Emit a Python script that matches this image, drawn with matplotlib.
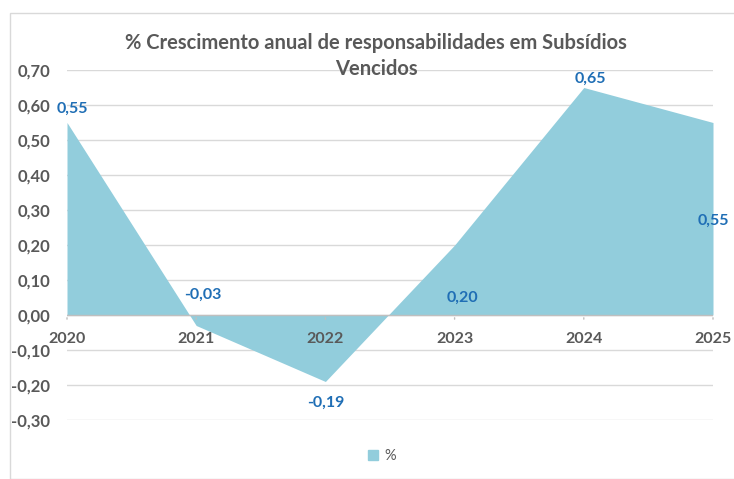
import matplotlib
matplotlib.use("Agg")
import matplotlib.pyplot as plt
from matplotlib.patches import Rectangle, Patch

years = ["2020", "2021", "2022", "2023", "2024", "2025"]
values = [0.55, -0.03, -0.19, 0.20, 0.65, 0.55]
value_labels = ["0,55", "-0,03", "-0,19", "0,20", "0,65", "0,55"]
yticks = [-0.3, -0.2, -0.1, 0.0, 0.1, 0.2, 0.3, 0.4, 0.5, 0.6, 0.7]
title = "% Crescimento anual de responsabilidades em Subsídios\nVencidos"
series_name = "%"

# label offsets in pixels (dx, dy with dy positive = down)
label_offsets = [(5, -14), (7, -31), (0, 21), (8, 53), (7, -9), (0, 98)]

FILL = "#92CDDC"
LABEL = "#1F6EB5"
GRAY = "#595959"
FONT = "Lato"

plt.rcParams['font.family'] = [FONT, 'DejaVu Sans']

W, H = 734, 479
fig = plt.figure(figsize=(W / 100, H / 100), dpi=100)

# chart border
fig.patches.append(Rectangle((10 / W, 0), 1.0, 1 - 13 / H, transform=fig.transFigure,
                             fill=False, edgecolor="#D9D9D9", lw=1.0))

ax = fig.add_axes([67 / W, 1 - 420 / H, (713 - 67) / W, (420 - 70) / H])
x = list(range(len(years)))
ax.fill_between(x, values, 0, color=FILL, lw=0, zorder=2)

ax.set_xlim(0, len(years) - 1)
ax.set_ylim(-0.3, 0.7)
ax.set_yticks(yticks)
ax.set_yticklabels([f"{v:.2f}".replace(".", ",") for v in yticks],
                   fontsize=12, fontweight="bold", color=GRAY)
ax.tick_params(axis="y", length=0, pad=12)
ax.grid(axis="y", color="#D9D9D9", lw=1, zorder=0)
ax.set_axisbelow(True)
for s in ax.spines.values():
    s.set_visible(False)

# x axis at zero
ax.axhline(0, color="#BFBFBF", lw=1, zorder=3)
ax.set_xticks([])
for i, yr in enumerate(years):
    ax.annotate("", xy=(i, 0), xytext=(0, -5), textcoords="offset points",
                arrowprops=dict(arrowstyle="-", color="#BFBFBF", lw=1))
    ax.annotate(yr, xy=(i, 0), xytext=(0, -17), textcoords="offset points",
                ha="center", va="center", fontsize=11.5, fontweight="bold", color=GRAY,
                annotation_clip=False)

for i, (v, lab) in enumerate(zip(values, value_labels)):
    dx, dy = label_offsets[i]
    ax.annotate(lab, xy=(i, v), xytext=(dx * 0.72, -dy * 0.72), textcoords="offset points",
                ha="center", va="center", fontsize=11.5, fontweight="bold", color=LABEL,
                annotation_clip=False, zorder=5)

fig.text(376 / W, 1 - 43 / H, title.split("\n")[0], ha="center", va="center",
         fontsize=14.5, fontweight="bold", color=GRAY)
fig.text(376 / W, 1 - 69 / H, title.split("\n")[1], ha="center", va="center",
         fontsize=14.5, fontweight="bold", color=GRAY)

leg = fig.legend(handles=[Patch(color=FILL, label=series_name)], loc="center",
                 bbox_to_anchor=(382 / W, 1 - 456 / H), frameon=False, fontsize=10.5,
                 handlelength=0.7, handleheight=0.7, handletextpad=0.4, labelcolor=GRAY)

fig.savefig("out.png", dpi=100)
